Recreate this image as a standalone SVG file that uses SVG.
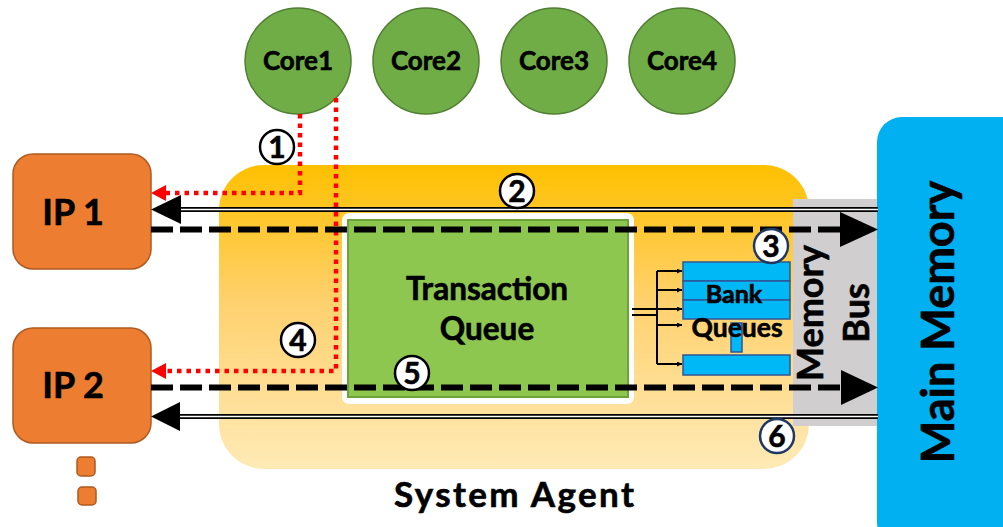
<svg xmlns="http://www.w3.org/2000/svg" width="1003" height="527" viewBox="0 0 1003 527">
<defs>
<linearGradient id="saGrad" x1="0" y1="0" x2="0" y2="1">
<stop offset="0" stop-color="#FFC000"/>
<stop offset="0.45" stop-color="#FFD16E"/>
<stop offset="1" stop-color="#FFEAB6"/>
</linearGradient>
<marker id="smallArrow" viewBox="0 0 10 10" refX="10" refY="5" markerWidth="5" markerHeight="5" orient="auto" markerUnits="userSpaceOnUse">
<path d="M0,0 L10,5 L0,10 z" fill="#000"/>
</marker>
</defs>
<style>
.txt{font-family:Lato,"Liberation Sans",sans-serif;font-weight:bold;fill:#000;stroke:#000;stroke-width:0.6;}
.core{fill:#70AD47;stroke:#507E32;stroke-width:1.5;}
.ip{fill:#ED7D31;stroke:#AE5A21;stroke-width:1.5;}
.bar{fill:#00B8F5;stroke:#2F5597;stroke-width:1.5;}
.dbl{stroke:#000;stroke-width:5;fill:none;}
.dblw{stroke:#fff;stroke-width:1.3;fill:none;}
.dash{stroke:#000;stroke-width:6;stroke-dasharray:22 7;fill:none;}
.dot{stroke:#FF0000;stroke-width:4.5;stroke-dasharray:4.5 5;fill:none;}
.num{fill:#fff;stroke:#000;stroke-width:2.5;}
.numb{fill:#fff;stroke:#1F3864;stroke-width:2.5;}
.fan{stroke:#000;stroke-width:2;fill:none;}
</style>

<g id="system-agent">
<rect x="219" y="165" width="590" height="304" rx="45" fill="url(#saGrad)"/>
<text class="txt" x="514" y="507" font-size="35" text-anchor="middle" textLength="240" lengthAdjust="spacing">System Agent</text>
</g>

<g id="memory-bus">
<rect x="793" y="199" width="85" height="227" fill="#D0CECE"/>
</g>

<g id="main-memory">
<rect x="877" y="117" width="150" height="430" rx="25" fill="#00B0F0"/>
<text class="txt" transform="translate(954,322) rotate(-90)" font-size="45" text-anchor="middle">Main Memory</text>
</g>

<g id="core1"><circle class="core" cx="298" cy="61" r="53"/><text class="txt" x="298" y="70" font-size="26" text-anchor="middle">Core1</text></g>
<g id="core2"><circle class="core" cx="426" cy="61" r="53"/><text class="txt" x="426" y="70" font-size="26" text-anchor="middle">Core2</text></g>
<g id="core3"><circle class="core" cx="554" cy="61" r="53"/><text class="txt" x="554" y="70" font-size="26" text-anchor="middle">Core3</text></g>
<g id="core4"><circle class="core" cx="682" cy="61" r="53"/><text class="txt" x="682" y="70" font-size="26" text-anchor="middle">Core4</text></g>

<g id="ip1"><rect class="ip" x="13" y="154" width="138" height="115" rx="20"/><text class="txt" x="73" y="225" font-size="36" text-anchor="middle">IP 1</text></g>
<g id="ip2"><rect class="ip" x="13" y="328" width="138" height="115" rx="20"/><text class="txt" x="73" y="398" font-size="36" text-anchor="middle">IP 2</text></g>
<g id="more-ips">
<rect class="ip" x="77" y="457" width="18" height="19" rx="4"/>
<rect class="ip" x="78" y="487" width="18" height="18" rx="4"/>
</g>

<g id="transaction-queue">
<rect x="342" y="213" width="292" height="191" rx="7" fill="#fff"/>
<rect x="348" y="220" width="280" height="177" fill="#8DC74F" stroke="#6FA33A" stroke-width="2"/>
<text class="txt" x="487" y="300" font-size="31.5" text-anchor="middle">Transaction</text>
<text class="txt" x="487" y="340" font-size="31.5" text-anchor="middle">Queue</text>
</g>

<g id="bank-queues">
<rect class="bar" x="683" y="262" width="107" height="19"/>
<rect class="bar" x="683" y="281" width="107" height="19"/>
<rect class="bar" x="683" y="300" width="107" height="19"/>
<rect class="bar" x="731" y="323" width="11" height="29"/>
<rect class="bar" x="683" y="355" width="107" height="20"/>
<text class="txt" x="734" y="303" font-size="25" text-anchor="middle">Bank</text>
<text class="txt" x="737" y="337" font-size="26.5" text-anchor="middle">Queues</text>
</g>

<g id="memory-bus-label">
<text class="txt" transform="translate(823,313) rotate(-90)" font-size="36" text-anchor="middle">Memory</text>
<text class="txt" transform="translate(869,313) rotate(-90)" font-size="36" text-anchor="middle">Bus</text>
</g>

<g id="connectors">
<path class="fan" d="M632,309 H657 M632,315 H657"/>
<path class="fan" d="M657,271 V364"/>
<path class="fan" d="M657,271 H682" marker-end="url(#smallArrow)"/>
<path class="fan" d="M657,290 H682" marker-end="url(#smallArrow)"/>
<path class="fan" d="M657,309 H682" marker-end="url(#smallArrow)"/>
<path class="fan" d="M657,325 H682" marker-end="url(#smallArrow)"/>
<path class="fan" d="M657,364 H682" marker-end="url(#smallArrow)"/>

<path class="dot" d="M300,114 V193 H164"/>
<path d="M151,193 L166,185 L166,201 z" fill="#FF0000"/>
<path class="dot" d="M336,98 V371 H164"/>
<path d="M151,371 L166,363 L166,379 z" fill="#FF0000"/>

<path class="dbl" d="M878,209.5 H178"/>
<path class="dblw" d="M878,209.5 H178"/>
<path d="M151,209.5 L181,195 L181,224 z" fill="#000"/>

<path class="dash" d="M151,229.5 H842"/>
<path d="M878,229.5 L840,212 L840,247 z" fill="#000"/>

<path class="dash" d="M151,387.5 H842"/>
<path d="M878,387.5 L841,370 L841,405 z" fill="#000"/>

<path class="dbl" d="M878,416.5 H177"/>
<path class="dblw" d="M878,416.5 H177"/>
<path d="M151,416.5 L180,402 L180,431 z" fill="#000"/>
</g>

<g id="step-numbers">
<g id="n1"><circle class="num" cx="277" cy="147" r="17"/><text class="txt" x="277" y="158" font-size="30" text-anchor="middle">1</text></g>
<g id="n2"><circle class="num" cx="517" cy="191" r="17"/><text class="txt" x="517" y="202" font-size="30" text-anchor="middle">2</text></g>
<g id="n3"><circle class="numb" cx="771" cy="246" r="17"/><text class="txt" x="771" y="257" font-size="30" text-anchor="middle">3</text></g>
<g id="n4"><circle class="num" cx="298" cy="340" r="17"/><text class="txt" x="298" y="351" font-size="30" text-anchor="middle">4</text></g>
<g id="n5"><circle class="num" cx="412" cy="373" r="17"/><text class="txt" x="412" y="384" font-size="30" text-anchor="middle">5</text></g>
<g id="n6"><circle class="numb" cx="777" cy="436" r="17"/><text class="txt" x="777" y="447" font-size="30" text-anchor="middle">6</text></g>
</g>
</svg>
